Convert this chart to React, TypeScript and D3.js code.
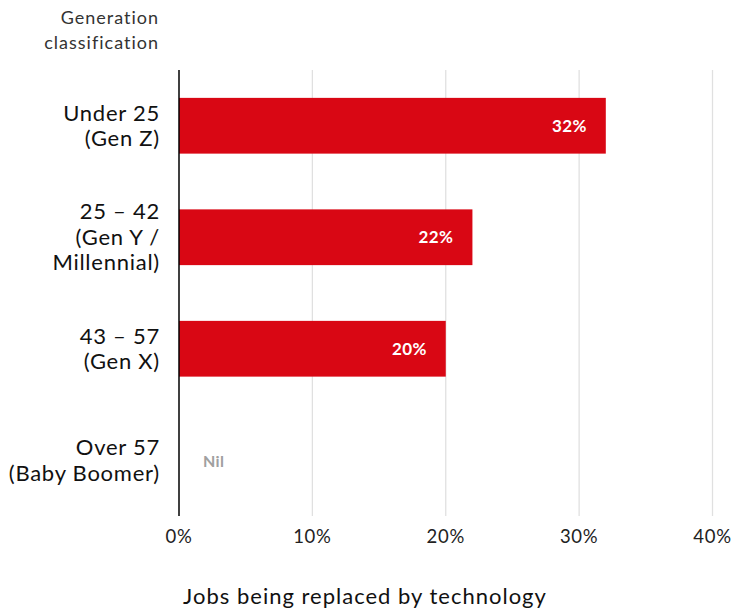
import React from "react";
import * as d3 from "d3";

const categories: string[][] = [
  ["Under 25", "(Gen Z)"],
  ["25 – 42", "(Gen Y /", "Millennial)"],
  ["43 – 57", "(Gen X)"],
  ["Over 57", "(Baby Boomer)"],
];
const values: (number | null)[] = [32, 22, 20, null];
const xTicks: number[] = [0, 10, 20, 30, 40];
const xTitle = "Jobs being replaced by technology";
const yTitle = ["Generation", "classification"];

const W = 733;
const H = 611;
const FONT = "Lato, 'Open Sans', sans-serif";
const RED = "#d90714";

export default function App() {
  const x = d3.scaleLinear().domain([0, 40]).range([179, 712.5]);
  const y = d3
    .scaleBand<number>()
    .domain(categories.map((_, i) => i))
    .range([70, 516])
    .paddingInner(0.5)
    .paddingOuter(0.25);
  const lineH = 25.5;

  return (
    <svg
      width={W}
      height={H}
      style={{ position: "absolute", left: 0, top: 0, background: "#fff" }}
      fontFamily={FONT}
    >
      {xTicks.slice(1).map((t) => (
        <line key={t} x1={x(t)} x2={x(t)} y1={70} y2={516} stroke="#e0e0e0" strokeWidth={1.3} />
      ))}
      {values.map((v, i) =>
        v !== null ? (
          <g key={i}>
            <rect x={x(0)} y={y(i)} width={x(v) - x(0)} height={y.bandwidth()} fill={RED} />
            <text
              x={x(v) - 19}
              y={(y(i) as number) + y.bandwidth() / 2}
              dy="0.35em"
              textAnchor="end"
              fill="#fff"
              fontWeight={700}
              fontSize={17}
              letterSpacing={0.4}
            >
              {v}%
            </text>
          </g>
        ) : (
          <text
            key={i}
            x={x(0) + 24}
            y={(y(i) as number) + y.bandwidth() / 2 + 1}
            dy="0.35em"
            fill="#a0a0a0"
            fontWeight={700}
            fontSize={16}
            letterSpacing={0.4}
          >
            Nil
          </text>
        )
      )}
      <line x1={x(0)} x2={x(0)} y1={70} y2={516} stroke="#000" strokeWidth={1.5} />
      {categories.map((lines, i) => {
        const cy = (y(i) as number) + y.bandwidth() / 2;
        const start = cy - ((lines.length - 1) * lineH) / 2;
        return (
          <text key={i} textAnchor="end" fontSize={22} fill="#111" letterSpacing={0.75}>
            {lines.map((l, j) => (
              <tspan key={j} x={160} y={start + j * lineH} dy="0.35em">
                {l}
              </tspan>
            ))}
          </text>
        );
      })}
      {xTicks.map((t) => (
        <text
          key={t}
          x={x(t)}
          y={537}
          dy="0.35em"
          textAnchor="middle"
          fontSize={18.5}
          letterSpacing={0.7}
          fill="#222"
        >
          {t}%
        </text>
      ))}
      <text textAnchor="end" fontSize={18} fill="#333" letterSpacing={1}>
        {yTitle.map((l, j) => (
          <tspan key={j} x={159} y={18 + j * 25} dy="0.35em">
            {l}
          </tspan>
        ))}
      </text>
      <text
        x={365}
        y={596}
        dy="0.35em"
        textAnchor="middle"
        fontSize={22}
        letterSpacing={1}
        fill="#111"
      >
        {xTitle}
      </text>
    </svg>
  );
}
